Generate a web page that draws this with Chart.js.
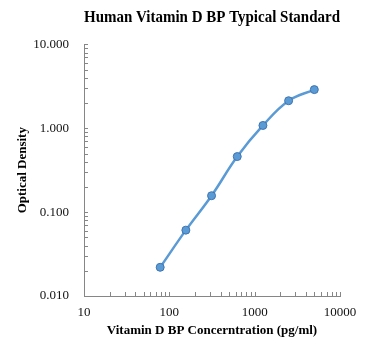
<!DOCTYPE html>
<html>
<head>
<meta charset="utf-8">
<script src="https://cdn.jsdelivr.net/npm/chart.js@4"></script>
<style>
  html, body { margin: 0; padding: 0; background: #ffffff; }
  #wrap { width: 370px; height: 354px; }
</style>
</head>
<body>
<div id="wrap"><canvas id="grafico"></canvas></div>
<script>
// datos
const concentraciones = [78.125, 156.25, 312.5, 625, 1250, 2500, 5000];
const densidadOptica = [0.022, 0.061, 0.157, 0.46, 1.08, 2.13, 2.89];

// etiquetas de los ejes
const xTickLabels = ['10', '100', '1000', '10000'];
const yTickLabels = ['0.010', '0.100', '1.000', '10.000'];

const fuente = '"Liberation Serif", "Times New Roman", serif';
const grisEje = '#868686';

// genera marcas menores (2..9) entre cada decada
function marcasLog(labels) {
    const mayores = labels.map(l => parseFloat(l));
    const marcas = [];
    for (let i = 0; i < mayores.length; i++) {
        marcas.push({ value: mayores[i] });
        if (i < mayores.length - 1) {
            for (let k = 2; k <= 9; k++) {
                marcas.push({ value: +(mayores[i] * k).toPrecision(6) });
            }
        }
    }
    return marcas;
}

function etiqueta(labels, value) {
    const idx = labels.findIndex(l => Math.abs(parseFloat(l) - value) < 1e-9);
    return idx >= 0 ? labels[idx] : '';
}

// dibuja las marcas hacia adentro del area
const marcasAdentro = {
    id: 'marcasAdentro',
    afterDraw(chart) {
        const ctx = chart.ctx;
        const area = chart.chartArea;
        ctx.save();
        ctx.strokeStyle = grisEje;
        ctx.lineWidth = 1;
        chart.scales.x.ticks.forEach(t => {
            const px = Math.round(chart.scales.x.getPixelForValue(t.value)) + 0.5;
            ctx.beginPath();
            ctx.moveTo(px, area.bottom);
            ctx.lineTo(px, area.bottom - 4);
            ctx.stroke();
        });
        chart.scales.y.ticks.forEach(t => {
            const py = Math.round(chart.scales.y.getPixelForValue(t.value)) + 0.5;
            ctx.beginPath();
            ctx.moveTo(area.left, py);
            ctx.lineTo(area.left + 4, py);
            ctx.stroke();
        });
        ctx.restore();
    }
};

const ctx = document.getElementById('grafico').getContext('2d');
new Chart(ctx, {
    type: 'line',
    data: {
        datasets: [{
            label: 'Standard',
            data: concentraciones.map((c, i) => ({ x: c, y: densidadOptica[i] })),
            borderColor: '#5b9bd5',
            borderWidth: 2.5,
            backgroundColor: '#5b9bd5',
            pointBackgroundColor: '#5b9bd5',
            pointBorderColor: '#3f74b0',
            pointBorderWidth: 1,
            pointRadius: 4,
            tension: 0.4,
            fill: false
        }]
    },
    options: {
        responsive: true,
        maintainAspectRatio: false,
        animation: false,
        layout: { padding: { left: 0, right: 30, top: 0, bottom: 0 } },
        plugins: {
            legend: { display: false },
            tooltip: { enabled: false },
            title: {
                display: true,
                text: 'Human Vitamin D BP Typical Standard',
                color: '#000000',
                fullSize: false,
                font: { family: fuente, size: 17, weight: 'bold' },
                padding: { top: 7, bottom: 17 }
            }
        },
        scales: {
            x: {
                type: 'logarithmic',
                min: 10,
                max: 10000,
                afterBuildTicks: (scale) => { scale.ticks = marcasLog(xTickLabels); },
                afterFit: (scale) => { scale.height = 58; },
                grid: { display: true, drawOnChartArea: false, drawTicks: false },
                border: { display: true, color: grisEje, width: 1 },
                ticks: {
                    autoSkip: false,
                    maxRotation: 0,
                    padding: 9,
                    color: '#111111',
                    font: { family: fuente, size: 13 },
                    callback: (value) => etiqueta(xTickLabels, value)
                },
                title: {
                    display: true,
                    text: 'Vitamin D BP Concerntration (pg/ml)',
                    color: '#000000',
                    font: { family: fuente, size: 13, weight: 'bold' },
                    padding: { top: 0, bottom: 16 }
                }
            },
            y: {
                type: 'logarithmic',
                min: 0.01,
                max: 10,
                afterBuildTicks: (scale) => { scale.ticks = marcasLog(yTickLabels); },
                afterFit: (scale) => { scale.width = 84; },
                grid: { display: true, drawOnChartArea: false, drawTicks: false },
                border: { display: true, color: grisEje, width: 1 },
                ticks: {
                    autoSkip: false,
                    padding: 15,
                    color: '#111111',
                    font: { family: fuente, size: 13 },
                    callback: (value) => etiqueta(yTickLabels, value)
                },
                title: {
                    display: true,
                    text: 'Optical Density',
                    color: '#000000',
                    font: { family: fuente, size: 13, weight: 'bold' },
                    padding: { top: 15, bottom: 0 }
                }
            }
        }
    },
    plugins: [marcasAdentro]
});
</script>
</body>
</html>
